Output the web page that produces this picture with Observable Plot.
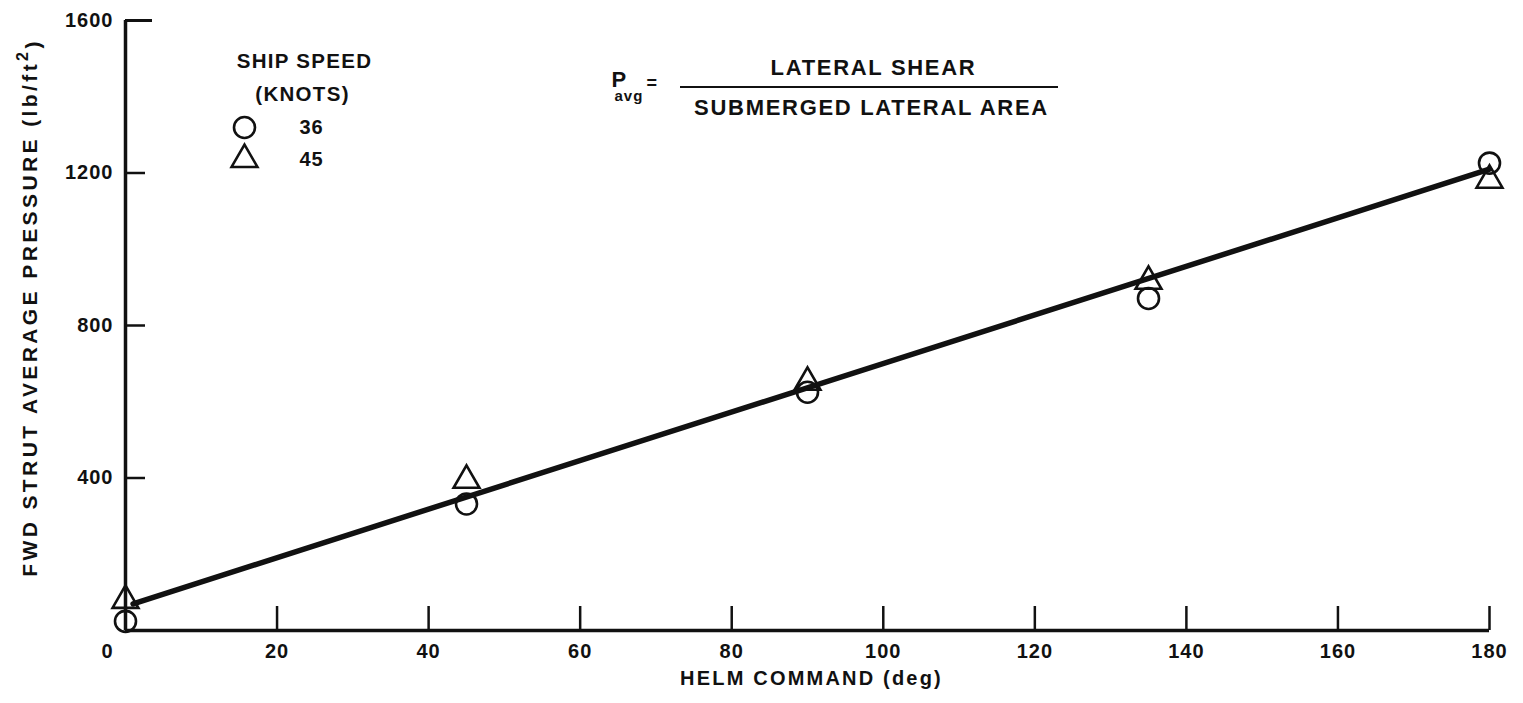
<!DOCTYPE html>
<html>
<head>
<meta charset="utf-8">
<script src="https://cdn.jsdelivr.net/npm/d3@7"></script>
<script src="https://cdn.jsdelivr.net/npm/@observablehq/plot@0.6"></script>
<style>
  html, body { margin: 0; padding: 0; background: #fff; overflow: hidden; }
  #chart svg text { letter-spacing: 1px; }
</style>
</head>
<body>
<div id="chart"></div>
<script>
// ---- data ----
const helm36 = [0, 45, 90, 135, 180];
const pres36 = [24, 332, 625, 871, 1226];
const helm45 = [0, 45, 90, 135, 180];
const pres45 = [79, 394, 651, 916, 1181];
const fitHelm = [1, 180];
const fitPres = [70, 1210];
const xTicks = [0, 20, 40, 60, 80, 100, 120, 140, 160, 180];
const yTicks = [400, 800, 1200, 1600];
const speeds = ["36", "45"];
const legendTitle = ["SHIP SPEED", "(KNOTS)"];
const xLabel = "HELM COMMAND (deg)";
const yLabelParts = ["FWD STRUT AVERAGE PRESSURE (lb/ft", "2", ")"];
const formulaLhs = ["P", "avg", "="];
const formulaNum = "LATERAL SHEAR";
const formulaDen = "SUBMERGED LATERAL AREA";

const FONT = '"Liberation Sans", Arial, Helvetica, sans-serif';
const INK = "#111";

const d36 = helm36.map((h, i) => ({helm: h, p: pres36[i]}));
const d45 = helm45.map((h, i) => ({helm: h, p: pres45[i]}));
const fit = fitHelm.map((h, i) => ({helm: h, p: fitPres[i]}));

const fmt = d => String(d);
const TL = {frameAnchor: "top-left", lineAnchor: "middle", fill: INK};

const chart = Plot.plot({
  width: 1523,
  height: 703,
  marginLeft: 125,
  marginRight: 34,
  marginTop: 20,
  marginBottom: 73,
  x: {domain: [0, 180], axis: null, label: null},
  y: {domain: [0, 1600], axis: null, label: null},
  style: {fontFamily: FONT, fontSize: "20px", fontWeight: "bold", color: INK, background: "#fff"},
  marks: [
    // axis lines
    Plot.ruleX([xTicks[0]], {stroke: INK, strokeWidth: 3.5}),
    Plot.ruleY([0], {stroke: INK, strokeWidth: 3.5}),
    // inward ticks
    Plot.axisX({ticks: xTicks.filter(d => d > 0), tickSize: -24, tickFormat: () => "", strokeWidth: 2.5, stroke: INK, label: null}),
    Plot.axisY({ticks: yTicks.filter(d => d < 1600), tickSize: -20, tickFormat: () => "", strokeWidth: 2.5, stroke: INK, label: null}),
    Plot.axisY({ticks: yTicks.filter(d => d === 1600), tickSize: -27, tickFormat: () => "", strokeWidth: 3, stroke: INK, label: null}),
    // tick labels
    Plot.axisX({ticks: xTicks.filter(d => d > 0), tickSize: 0, tickPadding: 13, tickFormat: fmt, fill: INK, fontSize: 20, label: null}),
    Plot.axisX({ticks: xTicks.filter(d => d === 0), tickSize: 0, tickPadding: 13, tickFormat: fmt, dx: -18, fill: INK, fontSize: 20, label: null}),
    Plot.axisY({ticks: yTicks, tickSize: 0, tickPadding: 12, tickFormat: fmt, fill: INK, fontSize: 20, label: null}),
    // axis titles
    Plot.text([xLabel], {frameAnchor: "bottom", lineAnchor: "middle", textAnchor: "middle", dx: 4, dy: 48, fill: INK, fontSize: 20}),
    Plot.text([yLabelParts.join("")], {frameAnchor: "left", lineAnchor: "middle", textAnchor: "middle", rotate: -90, dx: -95, dy: -18, fill: INK, fontSize: 21}),
    // fitted line
    Plot.line(fit, {x: "helm", y: "p", stroke: INK, strokeWidth: 5.5}),
    // data points
    Plot.dot(d36, {x: "helm", y: "p", r: 10.5, stroke: INK, strokeWidth: 2.6, fill: "none"}),
    Plot.dot(d45, {x: "helm", y: "p", r: 9.6, symbol: "triangle", stroke: INK, strokeWidth: 2.6, fill: "none"}),
    // legend
    Plot.text([legendTitle[0]], {...TL, textAnchor: "middle", dx: 179, dy: 41, fontSize: 20.5}),
    Plot.text([legendTitle[1]], {...TL, textAnchor: "middle", dx: 177, dy: 74, fontSize: 20.5}),
    Plot.dot([speeds[0]], {frameAnchor: "top-left", dx: 119, dy: 107, r: 10.5, stroke: INK, strokeWidth: 2.6, fill: "none"}),
    Plot.dot([speeds[1]], {frameAnchor: "top-left", dx: 119, dy: 139, r: 9.6, symbol: "triangle", stroke: INK, strokeWidth: 2.6, fill: "none"}),
    Plot.text([speeds[0]], {...TL, textAnchor: "start", dx: 174, dy: 107}),
    Plot.text([speeds[1]], {...TL, textAnchor: "start", dx: 174, dy: 139}),
    // formula
    Plot.text([formulaLhs[0]], {...TL, textAnchor: "start", dx: 486, dy: 59, fontSize: 22}),
    Plot.text([formulaLhs[1]], {...TL, textAnchor: "start", dx: 489, dy: 76, fontSize: 15}),
    Plot.text([formulaLhs[2]], {...TL, textAnchor: "start", dx: 521, dy: 63, fontSize: 18}),
    Plot.text([formulaNum], {...TL, textAnchor: "middle", dx: 748, dy: 47, fontSize: 22}),
    Plot.text([formulaDen], {...TL, textAnchor: "middle", dx: 746, dy: 87, fontSize: 22})
  ]
});

document.getElementById("chart").appendChild(chart);

// superscript in the y-axis title and fraction bar of the formula
const svg = d3.select(chart);
svg.selectAll("text").each(function () {
  const s = this.textContent;
  if (s === yLabelParts.join("")) {
    const t = d3.select(this);
    t.style("letter-spacing", "3.4px");
    t.text(null);
    t.append("tspan").text(yLabelParts[0]);
    t.append("tspan").attr("dy", "-0.55em").attr("font-size", "16px").text(yLabelParts[1]);
    t.append("tspan").attr("dy", "0.55em").text(yLabelParts[2]);
  }
  if (s === formulaNum || s === formulaDen) d3.select(this).style("letter-spacing", "1.7px");
  if (s === xLabel) d3.select(this).style("letter-spacing", "2.2px");
  if (s === legendTitle[0] || s === legendTitle[1]) d3.select(this).style("letter-spacing", "1.3px");
});
svg.append("line")
  .attr("x1", 680).attr("x2", 1058).attr("y1", 87).attr("y2", 87)
  .attr("stroke", INK).attr("stroke-width", 2.2);
</script>
</body>
</html>
